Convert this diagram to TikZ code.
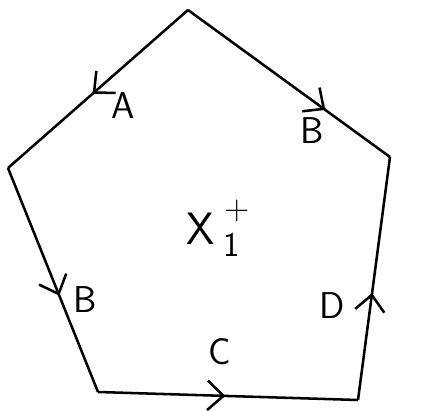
\documentclass[tikz,border=0pt]{standalone}
\usetikzlibrary{arrows.meta,decorations.markings}
\tikzset{
    lbl/.style={inner sep=0pt,font=\fontsize{28}{30}\sffamily},
    idx/.style={inner sep=0pt,font=\fontsize{26}{28}\sffamily},
    flow/.style={postaction={decorate,decoration={markings,
        mark=at position #1 with {\arrow{Straight Barb[length=12pt,width=22pt,line width=1.9pt]}}}}}
}
\begin{document}
\begin{tikzpicture}[x=.75pt,y=-.75pt,line width=1.9pt,line join=round]
    \useasboundingbox (0,0) rectangle (430,411);
    \coordinate (top) at (188,10);
    \coordinate (right) at (390,157);
    \coordinate (botR) at (358,400);
    \coordinate (botL) at (98,392);
    \coordinate (left) at (8,168);
    \draw[flow=.53] (top) -- (left); % edge A
    \draw[flow=.68] (top) -- (right); % edge B, upper
    \draw[flow=.57] (left) -- (botL); % edge B, lower
    \draw[flow=.49] (botL) -- (botR); % edge C
    \draw[flow=.44] (botR) -- (right); % edge D
    \node[lbl] (labA) at (123,106) {A};
    \node[lbl] (labB1) at (312,131) {B};
    \node[lbl] (labB2) at (85,300) {B};
    \node[lbl] (labC) at (220,352) {C};
    \node[lbl] (labD) at (332,306) {D};
    \node[lbl,font=\fontsize{34}{36}\sffamily] (labX) at (201,229) {X};
    \node[idx] (labXsup) at (237,211) {+}; % charge
    \node[idx] (labXsub) at (232,245) {1}; % index
\end{tikzpicture}
\end{document}
